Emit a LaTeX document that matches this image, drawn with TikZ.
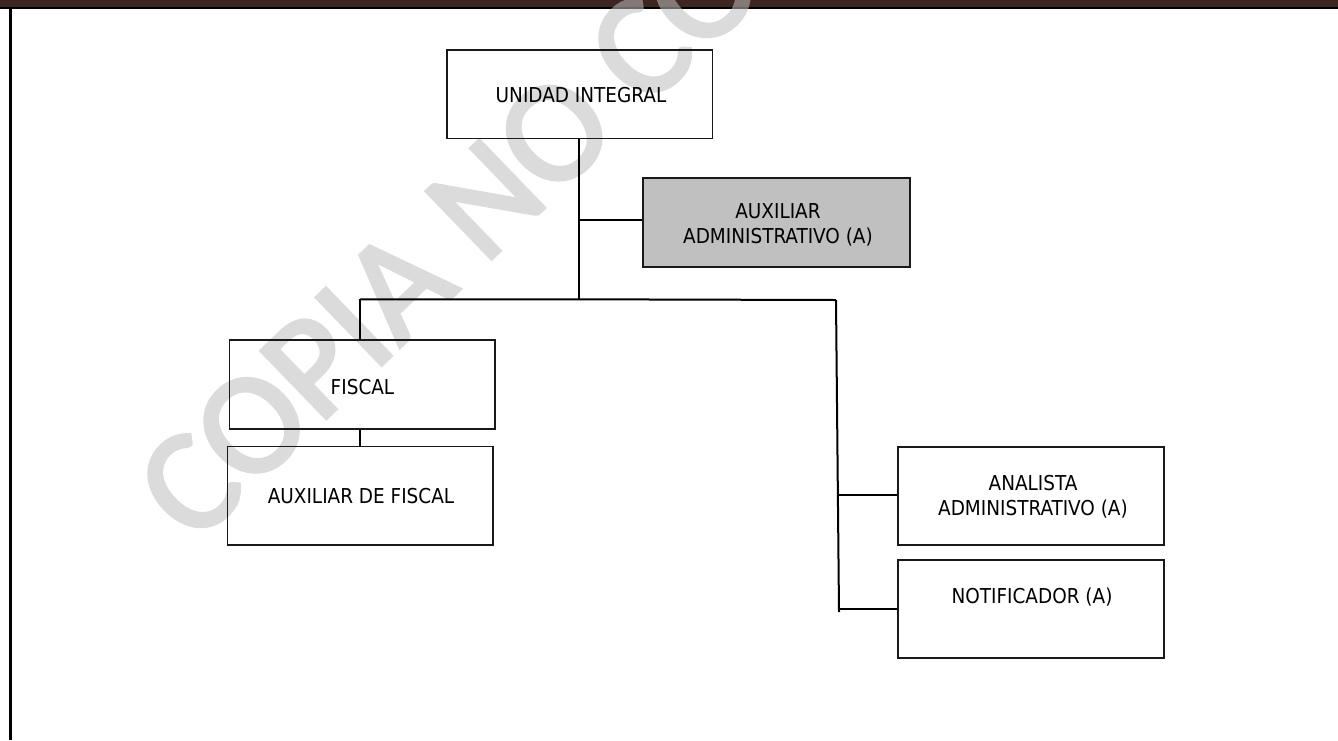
\documentclass[tikz,border=0pt]{standalone}
\usepackage{fontspec}
\newfontfamily\lblfont{DejaVu Sans Condensed}
\newfontfamily\markfont[FakeBold=2.5]{Carlito}
\definecolor{barbrown}{HTML}{3E2620}
\definecolor{markgray}{RGB}{190,190,190}
\definecolor{boxgray}{RGB}{192,192,192}
\begin{document}
\begin{tikzpicture}[x=1pt,y=-1pt,
  unitbox/.style={draw=black!90, line width=1.3pt, inner sep=0pt, minimum width=265.5pt},
  lbl/.style={font=\lblfont\fontsize{20.5}{25}\selectfont, align=center, inner sep=0pt, text=black},
  link/.style={draw=black, line width=2pt},
  frameline/.style={draw=black, line width=2.6pt}
]
\useasboundingbox (0,0) rectangle (1338,740);
\fill[white] (0,0) rectangle (1338,740);

% header band and frame
\fill[barbrown] (0,0) rectangle (1338,7);
\fill[black] (0,6.7) rectangle (1338,9);
\draw[frameline] (10.2,8) -- (10.2,740);

% watermark
\begin{scope}[transparency group, opacity=0.55]
\clip (0,0) rectangle (1338,740);
\node[font=\markfont\fontsize{146}{146}\selectfont, text=markgray,
      anchor=base west, rotate=44, inner sep=0pt] (mark) at (194,546) {COPIA NO CO};
\end{scope}

% boxes
\node[unitbox, minimum height=88.6pt] (uni) at (579.75,94.3) {};
\node[unitbox, minimum width=267pt, minimum height=89pt, fill=boxgray] (aux) at (776.5,222.5) {};
\node[unitbox, minimum height=89pt] (fis) at (362.25,384.5) {};
\node[unitbox, minimum height=98.5pt] (auxf) at (360.25,495.75) {};
\node[unitbox, minimum width=266pt, minimum height=98pt] (anal) at (1031,496) {};
\node[unitbox, minimum width=266pt, minimum height=98pt] (notif) at (1031,609) {};

% labels
\node[lbl] (tuni) at (581,95.5) {UNIDAD INTEGRAL};
\node[lbl] (taux) at (778,225) {AUXILIAR\\ADMINISTRATIVO (A)};
\node[lbl] (tfis) at (362.5,387.5) {FISCAL};
\node[lbl] (tauxf) at (361,496) {AUXILIAR DE FISCAL};
\node[lbl] (tanal) at (1033,496.5) {ANALISTA\\ADMINISTRATIVO (A)};
\node[lbl] (tnotif) at (1032,597.5) {NOTIFICADOR (A)};

% connector junctions
\coordinate (jmid) at (579,299.3);
\coordinate (jaux) at (579,219.5);
\coordinate (jleft) at (360,299.3);
\coordinate (jright) at (836,300);
\coordinate (jbottom) at (839,612);
\coordinate (janal) at (838,495);
\coordinate (jnotif) at (839,609.3);

% connectors
\draw[link] (uni.south -| jmid) -- (jmid);
\draw[link] (jaux) -- (jaux -| aux.west);
\draw[link] (jleft) -- (jmid) -- (jright);
\draw[link] (jleft) -- (jleft |- fis.north);
\draw[link] (fis.south -| jleft) -- (auxf.north -| jleft);
\draw[link] (jright) -- (jbottom);
\draw[link] (janal) -- (janal -| anal.west);
\draw[link] (jnotif) -- (jnotif -| notif.west);
\end{tikzpicture}
\end{document}
